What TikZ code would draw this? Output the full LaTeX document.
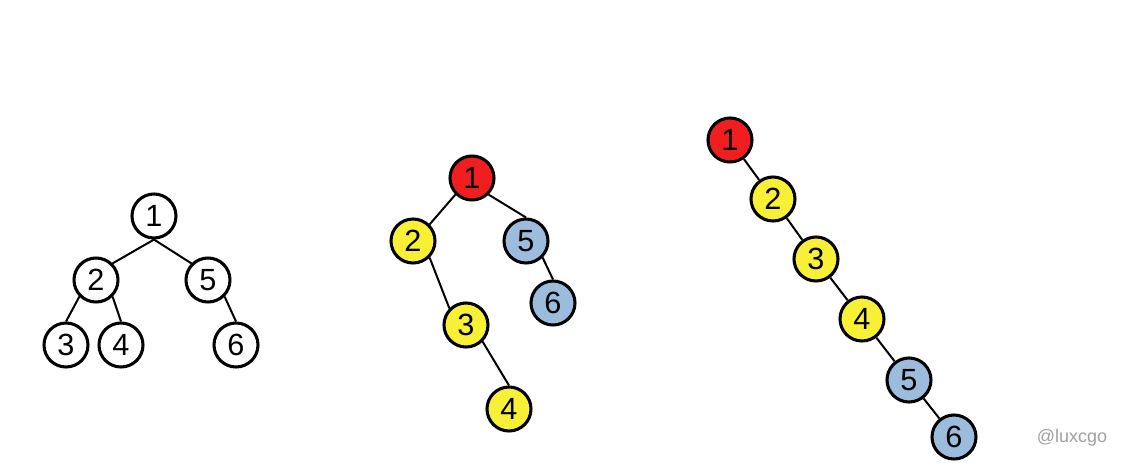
\documentclass[tikz,border=0pt]{standalone}
\usepackage{fontspec}
\setmainfont{Liberation Sans}
\definecolor{nred}{HTML}{F01E1E}
\definecolor{nyellow}{HTML}{F7F037}
\definecolor{nblue}{HTML}{9BBCDD}
\definecolor{wm}{HTML}{A0A0A0}
\begin{document}
\begin{tikzpicture}[x=0.75pt,y=-0.75pt,
  tn/.style={circle,draw=black,line width=2.3pt,minimum size=33pt,inner sep=0pt,font=\fontsize{23}{24}\selectfont},
  wn/.style={tn,fill=white},
  rn/.style={tn,fill=nred},
  yn/.style={tn,fill=nyellow},
  bn/.style={tn,fill=nblue},
  edge/.style={line width=1.5pt,black}]
\useasboundingbox (0,0) rectangle (1129,475);
\fill[white] (0,0) rectangle (1129,475);
% left tree
\node[wn] (a1) at (154,216) {1};
\node[wn] (a2) at (96,280) {2};
\node[wn] (a5) at (208,280) {5};
\node[wn] (a3) at (66,345) {3};
\node[wn] (a4) at (121,345) {4};
\node[wn] (a6) at (236,345) {6};
\draw[edge] (a1.south) -- (a2.north east);
\draw[edge] (a1.south) -- (a5.north west);
\draw[edge] (a2.south west) -- (a3.north);
\draw[edge] (a2.south east) -- (a4.north);
\draw[edge] (a5.south east) -- (a6.north);
% middle tree
\node[rn] (b1) at (472,178) {1};
\node[yn] (b2) at (413,241) {2};
\node[bn] (b5) at (526,241) {5};
\node[bn] (b6) at (553,303) {6};
\node[yn] (b3) at (466,325) {3};
\node[yn] (b4) at (509,409) {4};
\draw[edge] (b1.south west) -- (b2.north east);
\draw[edge] (b1.south east) -- (b5.north);
\draw[edge] (b5.south east) -- (b6.north);
\draw[edge] (b2.south east) -- (b3.north west);
\draw[edge] (b3.south east) -- (b4.north);
% right tree
\node[rn] (c1) at (730,140) {1};
\node[yn] (c2) at (773,199) {2};
\node[yn] (c3) at (816,259) {3};
\node[yn] (c4) at (862,319) {4};
\node[bn] (c5) at (909,380) {5};
\node[bn] (c6) at (954,437) {6};
\draw[edge] (c1) -- (c2);
\draw[edge] (c2) -- (c3);
\draw[edge] (c3) -- (c4);
\draw[edge] (c4) -- (c5);
\draw[edge] (c5) -- (c6);
% watermark
\node[text=wm,font=\fontsize{13.5}{14}\selectfont] (wmk) at (1072,438) {@luxcgo};
\end{tikzpicture}
\end{document}
